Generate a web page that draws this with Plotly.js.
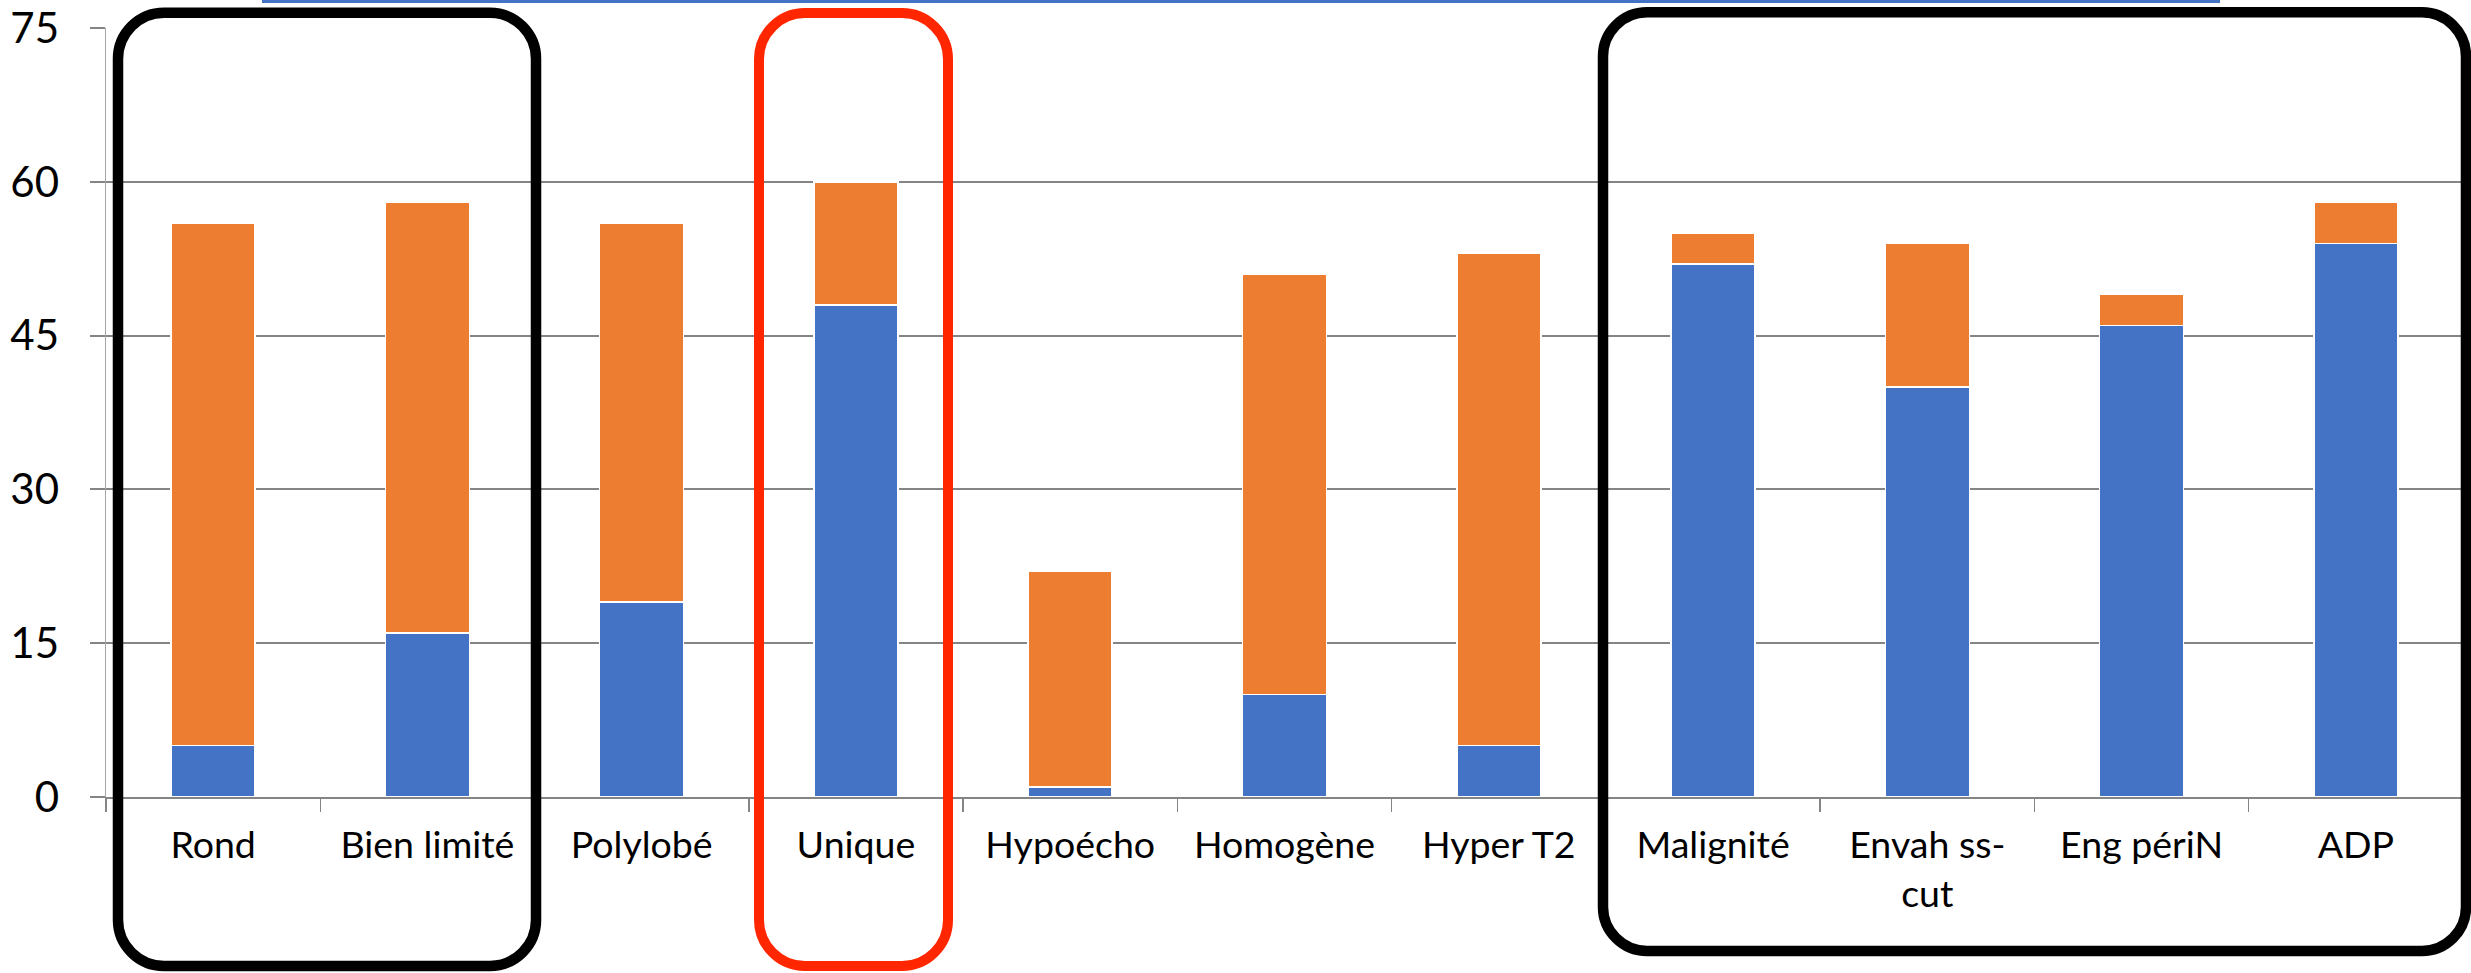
<!DOCTYPE html>
<html>
<head>
<meta charset="utf-8">
<script src="https://cdn.plot.ly/plotly-3.0.1.min.js"></script>
<style>
  html, body { margin: 0; padding: 0; background: #ffffff; overflow: hidden; }
  #chart { width: 2471px; height: 973px; }
</style>
</head>
<body>
<div id="chart"></div>
<script>
// ---- Data ----
const categories = ["Rond", "Bien limité", "Polylobé", "Unique", "Hypoécho", "Homogène",
                    "Hyper T2", "Malignité", "Envah ss-<br>cut", "Eng périN", "ADP"];
const seriesBlue   = [5, 16, 19, 48, 1, 10, 5, 52, 40, 46, 54];
const seriesOrange = [51, 42, 37, 12, 21, 41, 48, 3, 14, 3, 4];
const yTickValues  = [0, 15, 30, 45, 60, 75];
const pageNumber   = "10";

// ---- Layout geometry (pixels) ----
const FIG_W = 2471, FIG_H = 973;
const PL = 106, PR = 2463, PT = 27.7, PB = 797;
const PW = PR - PL, PH = PB - PT;
const px = x => (x - PL) / PW;
const py = y => (PB - y) / PH;

function roundedRect(x1, y1, x2, y2, r) {
  const k = 0.45; // control distance factor
  const P = (x, y) => px(x).toFixed(5) + "," + py(y).toFixed(5);
  return "M" + P(x1 + r, y1) +
    " L" + P(x2 - r, y1) +
    " C" + P(x2 - r * k, y1) + " " + P(x2, y1 + r * k) + " " + P(x2, y1 + r) +
    " L" + P(x2, y2 - r) +
    " C" + P(x2, y2 - r * k) + " " + P(x2 - r * k, y2) + " " + P(x2 - r, y2) +
    " L" + P(x1 + r, y2) +
    " C" + P(x1 + r * k, y2) + " " + P(x1, y2 - r * k) + " " + P(x1, y2 - r) +
    " L" + P(x1, y1 + r) +
    " C" + P(x1, y1 + r * k) + " " + P(x1 + r * k, y1) + " " + P(x1 + r, y1) + " Z";
}

const BLUE = "#4472C4", ORANGE = "#ED7D31", GRID = "#858585";

const traces = [
  {
    type: "bar", x: categories, y: seriesBlue, name: "Série 1",
    marker: { color: BLUE, line: { color: "#ffffff", width: 1.5 } },
    hoverinfo: "x+y"
  },
  {
    type: "bar", x: categories, y: seriesOrange, name: "Série 2",
    marker: { color: ORANGE, line: { color: "#ffffff", width: 1.5 } },
    hoverinfo: "x+y"
  }
];

const layout = {
  width: FIG_W, height: FIG_H,
  margin: { l: PL, r: FIG_W - PR, t: PT, b: FIG_H - PB, pad: 0 },
  paper_bgcolor: "#ffffff", plot_bgcolor: "#ffffff",
  font: { family: "Lato, 'Open Sans', sans-serif", color: "#000000" },
  barmode: "stack",
  bargap: 0.608,
  showlegend: false,
  xaxis: {
    type: "category",
    tickson: "boundaries",
    ticks: "outside", ticklen: 13, tickwidth: 1.5, tickcolor: GRID,
    showline: true, linecolor: GRID, linewidth: 2,
    showgrid: false,
    tickfont: { size: 37.5, color: "#000000" },
    ticklabelstandoff: 14,
    fixedrange: true
  },
  yaxis: {
    range: [0, 75],
    tickvals: yTickValues,
    ticktext: yTickValues.map(String),
    ticks: "outside", ticklen: 15, tickwidth: 2, tickcolor: GRID,
    showgrid: true, gridcolor: GRID, gridwidth: 2,
    zeroline: false,
    showline: true, linecolor: "#a6a6a6", linewidth: 1.5,
    tickfont: { size: 42, color: "#000000" },
    ticklabelstandoff: 22,
    fixedrange: true
  },
  shapes: [
    // thin blue line at the very top (edge of a text box)
    { type: "line", xref: "paper", yref: "paper",
      x0: px(262), x1: px(2220), y0: py(1.2), y1: py(1.2),
      line: { color: BLUE, width: 3 } },
    // black rounded box around Rond / Bien limité
    { type: "path", xref: "paper", yref: "paper",
      path: roundedRect(118, 12.5, 536, 966, 46),
      line: { color: "#000000", width: 10.5 }, fillcolor: "rgba(0,0,0,0)" },
    // red rounded box around Unique
    { type: "path", xref: "paper", yref: "paper",
      path: roundedRect(759, 12.8, 948, 966, 46),
      line: { color: "#FF2600", width: 10 }, fillcolor: "rgba(0,0,0,0)" },
    // black rounded box around Malignité ... ADP
    { type: "path", xref: "paper", yref: "paper",
      path: roundedRect(1603, 12, 2466, 951, 44),
      line: { color: "#000000", width: 10.5 }, fillcolor: "rgba(0,0,0,0)" }
  ],
  annotations: [
    { xref: "paper", yref: "paper", x: px(2318), y: py(963),
      xanchor: "center", yanchor: "top", showarrow: false,
      text: pageNumber, font: { size: 32, color: "#a0a0a0" } }
  ]
};

Plotly.newPlot("chart", traces, layout, { displayModeBar: false, staticPlot: true });
</script>
</body>
</html>
